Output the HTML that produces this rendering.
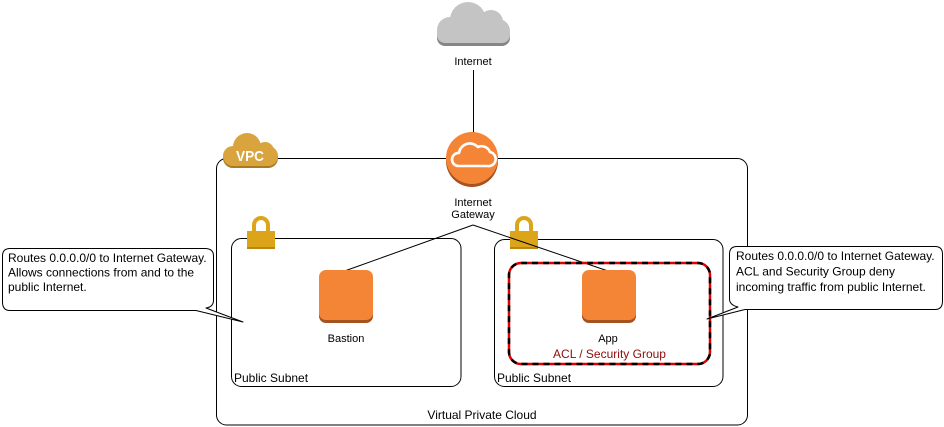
<!DOCTYPE html>
<html><head><meta charset="utf-8"><style>
html,body{margin:0;padding:0;background:#fff;}
svg{display:block;}
text{font-family:"Liberation Sans",Arial,sans-serif;fill:#000;}
</style></head><body>
<svg width="944" height="427" viewBox="0 0 944 427" xmlns="http://www.w3.org/2000/svg">
<!-- Internet cloud -->
<g fill="#868686" transform="translate(0,3)">
<circle cx="468" cy="20" r="18"/><circle cx="491" cy="22" r="12"/><circle cx="450" cy="30" r="13"/><circle cx="498" cy="31" r="12"/><rect x="437" y="25" width="73" height="18" rx="8"/>
</g>
<g fill="#c4c4c4">
<circle cx="468" cy="20" r="18"/><circle cx="491" cy="22" r="12"/><circle cx="450" cy="30" r="13"/><circle cx="498" cy="31" r="12"/><rect x="437" y="25" width="73" height="18" rx="8"/>
</g>
<text x="473" y="65" font-size="11" text-anchor="middle">Internet</text>
<line x1="473.5" y1="70" x2="473.5" y2="134" stroke="#000" stroke-width="1"/>

<!-- VPC box -->
<rect x="216.5" y="158.5" width="531" height="266.5" rx="10" fill="none" stroke="#000" stroke-width="1"/>
<!-- VPC badge -->
<g fill="#a87a24" transform="translate(0,2)">
<circle cx="247" cy="147" r="14"/><circle cx="265" cy="151" r="9"/><circle cx="233" cy="156" r="10"/><circle cx="268" cy="156" r="10"/><rect x="231" y="148" width="38" height="18"/>
</g>
<g fill="#d9a43e">
<circle cx="247" cy="147" r="14"/><circle cx="265" cy="151" r="9"/><circle cx="233" cy="156" r="10"/><circle cx="268" cy="156" r="10"/><rect x="231" y="148" width="38" height="18"/>
</g>
<text x="250" y="161" font-size="15" font-weight="bold" text-anchor="middle" textLength="28" lengthAdjust="spacingAndGlyphs" style="fill:#fff">VPC</text>

<!-- Internet gateway -->
<circle cx="472" cy="161" r="26" fill="#a65323"/>
<circle cx="472" cy="158" r="26" fill="#f58536"/>
<path d="M458,166 H487 A7,7 0 0 0 490,152 A9,9 0 0 0 478,147 A11,11 0 0 0 459,153 A6.5,6.5 0 0 0 458,166 Z" fill="none" stroke="#fff" stroke-width="2.6" stroke-linejoin="round"/>
<text x="473" y="206" font-size="11" text-anchor="middle">Internet</text>
<text x="473" y="218" font-size="11" text-anchor="middle">Gateway</text>

<!-- Subnets -->
<rect x="231.5" y="238.5" width="229.5" height="148" rx="10" fill="none" stroke="#000" stroke-width="1"/>
<rect x="494.5" y="239.5" width="228.5" height="147" rx="10" fill="none" stroke="#000" stroke-width="1"/>
<text x="234" y="382" font-size="12">Public Subnet</text>
<text x="497" y="382" font-size="12">Public Subnet</text>
<text x="482" y="419" font-size="12" text-anchor="middle">Virtual Private Cloud</text>

<!-- Locks -->
<g>
<path d="M254,232 V225 A7,7 0 0 1 268,225 V232" fill="none" stroke="#dca519" stroke-width="4"/>
<rect x="247" y="231" width="28" height="18" fill="#dca519"/>
<rect x="247" y="247" width="28" height="2" fill="#b8860f"/>
</g>
<g>
<path d="M517,232 V225 A7,7 0 0 1 531,225 V232" fill="none" stroke="#dca519" stroke-width="4"/>
<rect x="510" y="231" width="28" height="18" fill="#dca519"/>
<rect x="510" y="247" width="28" height="2" fill="#b8860f"/>
</g>

<!-- Connector lines -->
<line x1="473" y1="225" x2="346" y2="270.5" stroke="#000" stroke-width="1"/>
<line x1="473" y1="225" x2="608" y2="271" stroke="#000" stroke-width="1"/>

<!-- Dashed security group -->
<rect x="509" y="263" width="201" height="101" rx="12" fill="none" stroke="#e00000" stroke-width="2.5"/>
<rect x="509" y="263" width="201" height="101" rx="12" fill="none" stroke="#000" stroke-width="2.5" stroke-dasharray="6 5"/>

<!-- Bastion -->
<rect x="319" y="274" width="54" height="49" rx="7" fill="#a4521f"/>
<rect x="319" y="270" width="54" height="50" rx="7" fill="#f58536"/>
<text x="346" y="342" font-size="11" text-anchor="middle">Bastion</text>

<!-- App -->
<rect x="582" y="274" width="54" height="49" rx="7" fill="#a4521f"/>
<rect x="582" y="270" width="54" height="50" rx="7" fill="#f58536"/>
<text x="608" y="342" font-size="11" text-anchor="middle">App</text>
<text x="609.5" y="358" font-size="12" text-anchor="middle" style="fill:#8e0c0c">ACL / Security Group</text>

<!-- Left callout -->
<path d="M10,248.5 H205 Q213.5,248.5 213.5,256 V300 Q213.5,307 206,308 L243,322 L196,310.5 H10 Q2.5,310.5 2.5,302 V256 Q2.5,248.5 10,248.5 Z" fill="#fff" stroke="#000" stroke-width="1" stroke-linejoin="round"/>
<text x="8" y="262" font-size="12">Routes 0.0.0.0/0 to Internet Gateway.</text>
<text x="8" y="276.5" font-size="12">Allows connections from and to the</text>
<text x="8" y="291" font-size="12">public Internet.</text>

<!-- Right callout -->
<path d="M737,246.5 H935 Q942.5,246.5 942.5,254 V301 Q942.5,309.5 935,309.5 H745 L707,319 L738,307 Q729.5,305 729.5,299 V254 Q729.5,246.5 737,246.5 Z" fill="#fff" stroke="#000" stroke-width="1" stroke-linejoin="round"/>
<text x="736" y="260" font-size="12">Routes 0.0.0.0/0 to Internet Gateway.</text>
<text x="736" y="275.5" font-size="12">ACL and Security Group deny</text>
<text x="736" y="291" font-size="12">incoming traffic from public Internet.</text>
</svg>
</body></html>
